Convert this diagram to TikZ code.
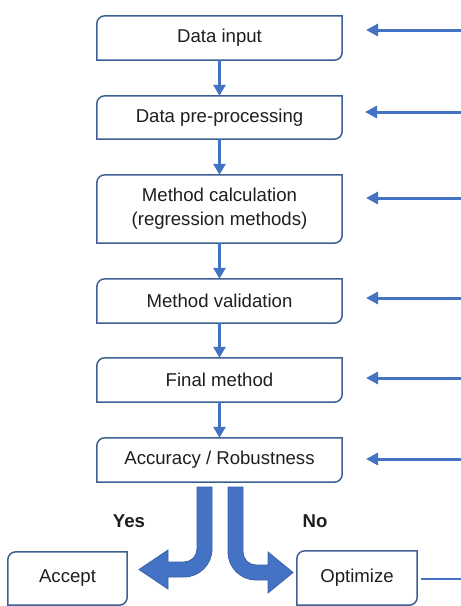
\documentclass[tikz,border=0pt]{standalone}
\usepackage{fontspec}
\setmainfont{Liberation Sans}
\usetikzlibrary{arrows.meta}
\definecolor{boxc}{HTML}{3D5F94}
\definecolor{arrc}{HTML}{4472C4}
\definecolor{fatc}{HTML}{4472C4}
\definecolor{fatedge}{HTML}{3A63AA}
\definecolor{txtc}{HTML}{1E1E1E}
\tikzset{
  box/.style={rectangle, inner sep=0pt, text=txtc, align=center,
    font=\fontsize{18.6}{24}\selectfont, minimum width=245pt, minimum height=44pt},
  smallbox/.style={box, minimum width=120pt, minimum height=54pt},
  boxline/.style={draw=boxc, line width=1.5pt, rounded corners=8pt, line cap=rect},
  flow/.style={draw=arrc, line width=3pt, -{Triangle[width=12pt,length=11pt]}},
  fb/.style={draw=arrc, line width=3pt, -{Triangle[width=12pt,length=12pt]}},
  fbline/.style={draw=arrc, line width=2.2pt},
  fat/.style={fill=fatc, draw=fatedge, line width=0.8pt, line join=miter},
  lab/.style={text=txtc, font=\fontsize{18.6}{22}\selectfont\bfseries}
}
\newcommand{\diagbox}[1]{%
  \draw[boxline] (#1.south west) -- (#1.north west) -- (#1.north east);
  \draw[boxline] (#1.north east) -- (#1.south east) -- (#1.south west);
}
\begin{document}
\begin{tikzpicture}[x=1pt,y=-1pt]
\useasboundingbox (0,0) rectangle (461,606);
% main boxes
\node[box] (in) at (219.5,38) {Data input};
\node[box, minimum height=43pt] (pre) at (219.5,117.5) {Data pre-processing};
\node[box, minimum height=68pt] (calc) at (219.5,209) {Method calculation\\(regression methods)};
\node[box] (val) at (219.5,301) {Method validation};
\node[box] (fin) at (219.5,380) {Final method};
\node[box] (acc) at (219.5,460) {Accuracy / Robustness};
\node[smallbox, minimum width=119pt, minimum height=53pt] (accept) at (67.5,578.5) {Accept};
\node[smallbox] (opt) at (357,578) {Optimize};
\foreach \n in {in,pre,calc,val,fin,acc,accept,opt}{\diagbox{\n}}
% vertical flow arrows
\draw[flow] (in.south) -- (pre.north);
\draw[flow] (pre.south) -- (calc.north);
\draw[flow] (calc.south) -- (val.north);
\draw[flow] (val.south) -- (fin.north);
\draw[flow] (fin.south) -- (acc.north);
% feedback arrows from the right
\coordinate (r1) at (461,30);  \coordinate (t1) at (366,30);
\coordinate (r2) at (461,112); \coordinate (t2) at (365,112);
\coordinate (r3) at (461,198); \coordinate (t3) at (366,198);
\coordinate (r4) at (461,298); \coordinate (t4) at (366,298);
\coordinate (r5) at (461,378); \coordinate (t5) at (366,378);
\coordinate (r6) at (461,459); \coordinate (t6) at (366,459);
\foreach \i in {1,...,6}{\draw[fb] (r\i) -- (t\i);}
\coordinate (oe) at (421,579);
\coordinate (r7) at (461,579);
\draw[fbline] (oe) -- (r7);
% fat decision arrows
\path[fat] (197,487) -- (212,487) -- (212,549)
  .. controls (212,564.5) and (199.5,577) .. (184,577)
  -- (168,577) -- (168,589) -- (139,569.5) -- (168,550) -- (168,562) -- (184,562)
  .. controls (191.2,562) and (197,556.2) .. (197,549) -- cycle;
\path[fat] (228,487) -- (243,487) -- (243,552)
  .. controls (243,559.2) and (248.8,565) .. (256,565)
  -- (268,565) -- (268,552) -- (293,572.5) -- (268,593) -- (268,580) -- (256,580)
  .. controls (240.5,580) and (228,567.5) .. (228,552) -- cycle;
\node[lab] (yes) at (129,521) {Yes};
\node[lab] (no) at (315,521) {No};
\end{tikzpicture}
\end{document}
